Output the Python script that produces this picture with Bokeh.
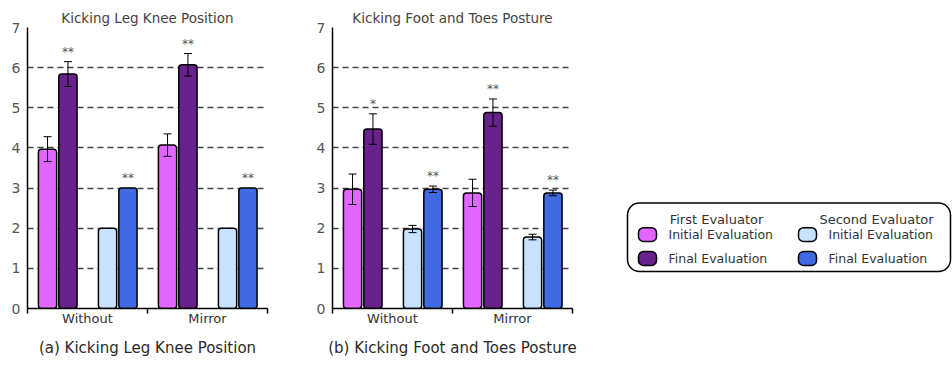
from bokeh.plotting import figure
from bokeh.layouts import row
from bokeh.models import Range1d, FixedTicker, Whisker, TeeHead, ColumnDataSource, Title
from bokeh.core.properties import value
from bokeh.embed import file_html
from bokeh.resources import INLINE

# ---------------- data ----------------
categories = ["Without", "Mirror"]
y_ticks = [0, 1, 2, 3, 4, 5, 6, 7]

knee_title = "Kicking Leg Knee Position"
knee_caption = "(a) Kicking Leg Knee Position"
knee_first_initial = [3.97, 4.07]
knee_first_initial_err = [0.31, 0.28]
knee_first_final = [5.84, 6.07]
knee_first_final_err = [0.31, 0.28]
knee_second_initial = [2.0, 2.0]
knee_second_initial_err = [0.0, 0.0]
knee_second_final = [3.0, 3.0]
knee_second_final_err = [0.0, 0.0]
knee_first_final_sig = ["**", "**"]
knee_second_final_sig = ["**", "**"]

foot_title = "Kicking Foot and Toes Posture"
foot_caption = "(b) Kicking Foot and Toes Posture"
foot_first_initial = [2.97, 2.88]
foot_first_initial_err = [0.38, 0.34]
foot_first_final = [4.47, 4.88]
foot_first_final_err = [0.38, 0.34]
foot_second_initial = [1.98, 1.78]
foot_second_initial_err = [0.09, 0.07]
foot_second_final = [2.97, 2.88]
foot_second_final_err = [0.08, 0.07]
foot_first_final_sig = ["*", "**"]
foot_second_final_sig = ["**", "**"]

evaluators = ["First Evaluator", "Second Evaluator"]
stages = ["Initial Evaluation", "Final Evaluation"]
colors = ["#E066FF", "#68228B", "#C6E2FF", "#4169E1"]

FONT = "DejaVu Sans"
offsets = [0.167, 0.337, 0.667, 0.837]
bar_width = 0.152


def make_chart(title, caption, means, errs, sigs, border_left, border_right):
    p = figure(frame_width=240, frame_height=281,
               min_border_left=border_left, min_border_right=border_right,
               min_border_top=27, min_border_bottom=57,
               x_range=Range1d(0, len(categories)), y_range=Range1d(0, 7),
               output_backend="svg", toolbar_location=None,
               outline_line_color=None)
    p.title.text = title
    p.title.align = "center"
    p.title.text_font = FONT
    p.title.text_font_size = "13.5px"
    p.title.text_font_style = "normal"
    p.title.text_color = "#444444"
    p.title.standoff = 3

    p.add_layout(Title(text=caption, align="center", text_font=FONT,
                       text_font_size="15px", text_font_style="normal",
                       text_color="#2a2a2a", standoff=17), "below")

    p.xgrid.visible = False
    p.ygrid.ticker = FixedTicker(ticks=y_ticks)
    p.ygrid.grid_line_dash = "6 4"
    p.ygrid.grid_line_color = "#444444"
    p.ygrid.grid_line_width = 1.3

    p.yaxis.ticker = FixedTicker(ticks=y_ticks)
    p.yaxis.major_tick_in = 0
    p.yaxis.major_tick_out = 0
    p.yaxis.minor_tick_line_color = None
    p.yaxis.axis_line_width = 1.5
    p.yaxis.major_label_text_color = "#555555"
    p.yaxis.major_label_text_font = FONT
    p.yaxis.major_label_text_font_size = "14px"
    p.yaxis.major_label_standoff = 7

    centers = [i + 0.5 for i in range(len(categories))]
    p.xaxis.ticker = FixedTicker(ticks=centers, minor_ticks=list(range(len(categories) + 1)))
    p.xaxis.major_label_overrides = {c: name for c, name in zip(centers, categories)}
    p.xaxis.major_tick_in = 0
    p.xaxis.major_tick_out = 0
    p.xaxis.minor_tick_in = 0
    p.xaxis.minor_tick_out = 5
    p.xaxis.minor_tick_line_color = "black"
    p.xaxis.minor_tick_line_width = 1.5
    p.xaxis.axis_line_width = 1.5
    p.xaxis.major_label_standoff = -3
    p.xaxis.major_label_text_color = "#333333"
    p.xaxis.major_label_text_font = FONT
    p.xaxis.major_label_text_font_size = "13px"

    for s in range(4):
        xs = [i + offsets[s] for i in range(len(categories))]
        p.vbar(x=xs, top=means[s], bottom=0, width=bar_width,
               fill_color=colors[s], line_color="black", line_width=1.5,
               border_radius=3)
        ex = [x for x, e in zip(xs, errs[s]) if e > 0]
        up = [m + e for m, e in zip(means[s], errs[s]) if e > 0]
        lo = [m - e for m, e in zip(means[s], errs[s]) if e > 0]
        if ex:
            src = ColumnDataSource(dict(x=ex, upper=up, lower=lo))
            w = Whisker(base="x", upper="upper", lower="lower", source=src,
                        line_color="black", line_width=1, level="annotation",
                        upper_head=TeeHead(size=8, line_width=1, line_color="black"),
                        lower_head=TeeHead(size=8, line_width=1, line_color="black"))
            p.add_layout(w)
        if sigs[s] is not None:
            ys = [m + e for m, e in zip(means[s], errs[s])]
            p.text(x=xs, y=ys, text=sigs[s], text_align="center",
                   text_baseline="alphabetic", y_offset=-10,
                   text_font=value(FONT), text_font_size="12px",
                   text_color="#555555")
    return p


p1 = make_chart(knee_title, knee_caption,
                [knee_first_initial, knee_first_final, knee_second_initial, knee_second_final],
                [knee_first_initial_err, knee_first_final_err, knee_second_initial_err, knee_second_final_err],
                [None, knee_first_final_sig, None, knee_second_final_sig], 27, 23)
p2 = make_chart(foot_title, foot_caption,
                [foot_first_initial, foot_first_final, foot_second_initial, foot_second_final],
                [foot_first_initial_err, foot_first_final_err, foot_second_initial_err, foot_second_final_err],
                [None, foot_first_final_sig, None, foot_second_final_sig], 42, 28)

# ---------------- legend panel ----------------
leg = figure(width=352, height=365, x_range=Range1d(0, 352), y_range=Range1d(0, 365),
             x_axis_type=None, y_axis_type=None, min_border=0,
             outline_line_color=None, output_backend="svg", toolbar_location=None)
leg.grid.visible = False
leg.quad(left=27, right=350, bottom=48, top=137, fill_color="white",
         line_color="black", line_width=1.5, border_radius=12)
col_sw = [47, 207]
col_txt = [68, 228]
col_head = [116, 276]
row_y = [96, 65]
for c in range(2):
    leg.text(x=[col_head[c]], y=[116], text=[evaluators[c]], text_align="center",
             text_baseline="middle", text_font=value(FONT), text_font_size="13px",
             text_color="#333333")
    for r in range(2):
        leg.quad(left=col_sw[c] - 9, right=col_sw[c] + 9,
                 bottom=row_y[r] - 9, top=row_y[r] + 9,
                 fill_color=colors[2 * c + r], line_color="black", line_width=1.5,
                 border_radius=5)
        leg.text(x=[col_txt[c]], y=[row_y[r]], text=[stages[r]], text_align="left",
                 text_baseline="middle", text_font=value(FONT), text_font_size="12.5px",
                 text_color="#333333")

layout = row(p1, p2, leg)
open("out.html", "w").write(file_html(layout, INLINE))
